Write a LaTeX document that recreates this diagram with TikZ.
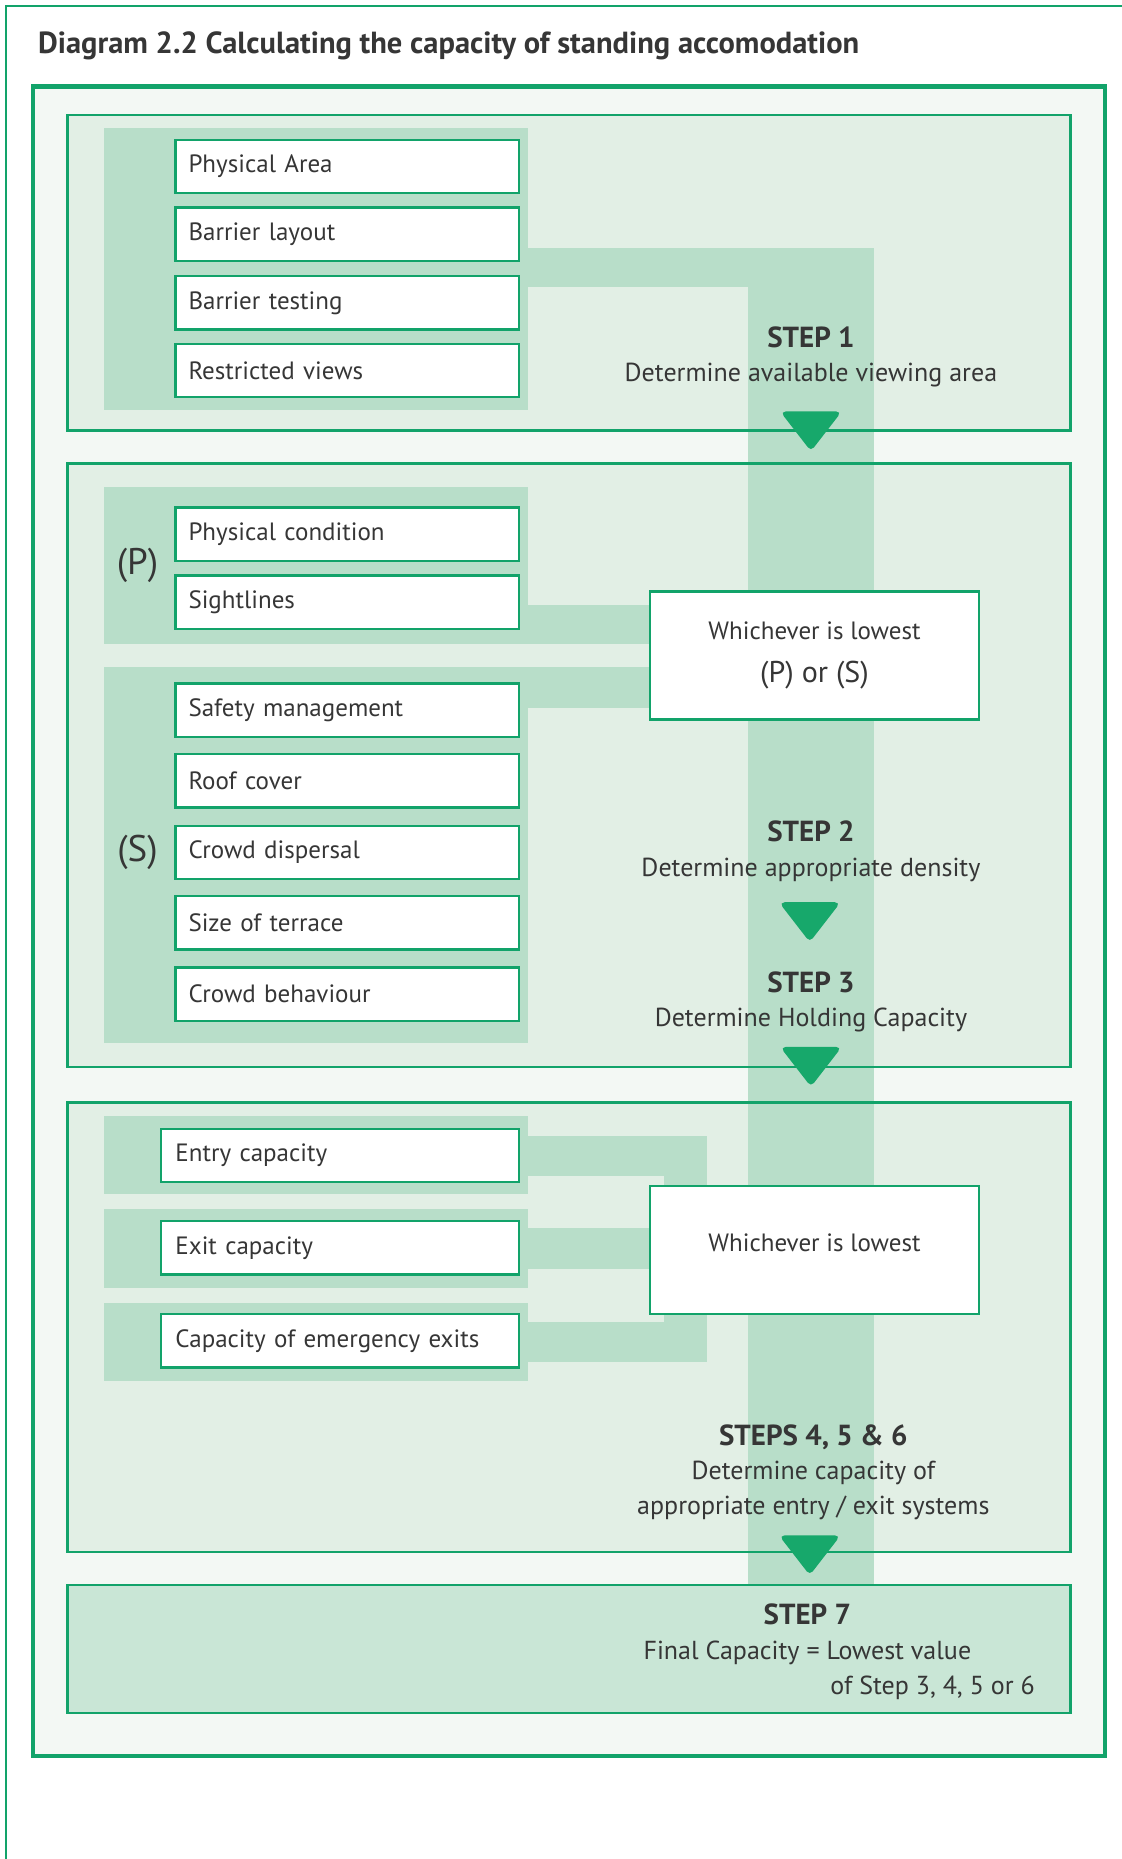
\documentclass[tikz,border=0pt]{standalone}
\usepackage{fontspec}
\setmainfont{PT Sans}
\usetikzlibrary{positioning}

\definecolor{lineGreen}{HTML}{12A36A}
\definecolor{tipGreen}{HTML}{17A86B}
\definecolor{bandGreen}{HTML}{B8DEC9}
\definecolor{panelGreen}{HTML}{E2EFE5}
\definecolor{finalGreen}{HTML}{C9E6D6}
\definecolor{pageGreen}{HTML}{F3F8F4}
\definecolor{inkGrey}{HTML}{363636}

\newdimen\px \px=1.185pt

\tikzset{
  panel/.style={draw=lineGreen, line width=2\px, fill=panelGreen},
  band/.style={fill=bandGreen},
  field/.style={draw=lineGreen, line width=2\px, fill=white, anchor=west,
    minimum height=45\px, text width=268\px, inner xsep=11\px, align=left,
    font=\fontsize{25}{27}\selectfont, text=inkGrey},
  lowbox/.style={draw=lineGreen, line width=2\px, fill=white,
    minimum width=278\px, minimum height=108\px, align=center,
    font=\fontsize{25}{38}\selectfont, text=inkGrey},
  stephead/.style={anchor=base, inner sep=0pt, text=inkGrey,
    font=\bfseries\fontsize{29}{31}\selectfont},
  stepdesc/.style={anchor=base, inner sep=0pt, text=inkGrey,
    font=\fontsize{26}{28}\selectfont},
  grouptag/.style={text=inkGrey, inner sep=0pt, font=\fontsize{37}{39}\selectfont},
  tip/.style={fill=tipGreen, draw=tipGreen, line width=2\px, rounded corners=3\px}
}

\begin{document}
\begin{tikzpicture}[x=1.185pt, y=-1.185pt]
\useasboundingbox (0,0) rectangle (946,1568);

% outer page frame and title
\draw[lineGreen, line width=2\px] (5,1568) -- (5,5) -- (946,5);
\node[anchor=base west, inner sep=0pt, text=inkGrey, font=\bfseries\fontsize{30.5}{32}\selectfont]
  (title) at (32,45) {Diagram 2.2 Calculating the capacity of standing accomodation};

% main frame and panels
\draw[lineGreen, line width=3.5\px, fill=pageGreen] (28,73) rectangle (932,1481);
\fill[panelGreen] (57,97) rectangle (903,363);
\fill[panelGreen] (57,391) rectangle (903,900);
\fill[panelGreen] (57,930) rectangle (903,1309);
\fill[finalGreen] (57,1337) rectangle (903,1445);

% group bands
\fill[band] (88,108) rectangle (445,346);
\fill[band] (88,411) rectangle (445,543);
\fill[band] (88,563) rectangle (445,880);
\foreach \top in {941,1020,1099}
  \fill[band] (88,\top) rectangle (445,\top+66);

% spine
\path (631,209) coordinate (spineL);
\path (737,1337) coordinate (spineR);
\fill[band] (445,209) rectangle (737,242);
\fill[band] (spineL) rectangle (spineR);

% panel borders
\draw[lineGreen, line width=2\px] (57,97) rectangle (903,363);
\draw[lineGreen, line width=2\px] (57,391) rectangle (903,900);
\draw[lineGreen, line width=2\px] (57,930) rectangle (903,1309);
\draw[lineGreen, line width=2\px] (57,1337) rectangle (903,1445);

% step 1
\node[field] (parea) at (147,140.5) {Physical Area};
\node[field] (blayout) at (147,197.5) {Barrier layout};
\node[field] (btest) at (147,255.5) {Barrier testing};
\node[field] (rview) at (147,312.5) {Restricted views};
\node[stephead] (s1) at (684,293) {STEP 1};
\node[stepdesc] (d1) at (684,322) {Determine available viewing area};

% step 2 and 3
\node[lowbox] (low1) at (687,553) {\raisebox{5pt}{Whichever is lowest}\\{\fontsize{30}{32}\selectfont (P) or (S)}};
\fill[band] (445,510) rectangle (low1.west |- 0,543);
\fill[band] (445,563) rectangle (low1.west |- 0,597);
\node[field] (pcond) at (147,450.5) {Physical condition};
\node[field] (sight) at (147,508) {Sightlines};
\node[field] (safety) at (147,599) {Safety management};
\node[field] (roof) at (147,658.5) {Roof cover};
\node[field] (disp) at (147,719) {Crowd dispersal};
\node[field] (tsize) at (147,778.5) {Size of terrace};
\node[field] (behav) at (147,838.5) {Crowd behaviour};
\node[grouptag] (ptag) at (116,477) {(P)};
\node[grouptag] (stag) at (116,719) {(S)};
\node[stephead] (s2) at (684,710) {STEP 2};
\node[stepdesc] (d2) at (684,739) {Determine appropriate density};
\node[stephead] (s3) at (684,837) {STEP 3};
\node[stepdesc] (d3) at (684,866) {Determine Holding Capacity};

% steps 4, 5 and 6
\fill[band] (445,958) rectangle (596,992);
\fill[band] (560,958) rectangle (596,1149);
\fill[band] (445,1115) rectangle (596,1149);
\fill[band] (445,1036) rectangle (548,1070);
\node[lowbox] (low2) at (687,1054.5) {\raisebox{16pt}{Whichever is lowest}};
\node[field, text width=278\px, inner xsep=12\px] (entry) at (135,974.5) {Entry capacity};
\node[field, text width=278\px, inner xsep=12\px] (exit) at (135,1052.5) {Exit capacity};
\node[field, text width=278\px, inner xsep=12\px] (emerg) at (135,1131) {Capacity of emergency exits};
\node[stephead] (s4) at (686,1219) {STEPS 4, 5 \& 6};
\node[stepdesc] (d4) at (686,1248) {Determine capacity of};
\node[stepdesc] (d4b) at (686,1277) {appropriate entry / exit systems};

% step 7
\node[stephead] (s7) at (681,1370) {STEP 7};
\node[stepdesc] (d7) at (681,1400) {Final Capacity = Lowest value};
\node[stepdesc, anchor=base east] (d7b) at (873,1429) {of Step 3, 4, 5 or 6};

% arrow heads
\foreach \x/\y in {684/348, 683/762, 684/884, 683/1296}
  \draw[tip] (\x-24,\y) -- (\x+24,\y) -- (\x,\y+31) -- cycle;
\end{tikzpicture}
\end{document}
